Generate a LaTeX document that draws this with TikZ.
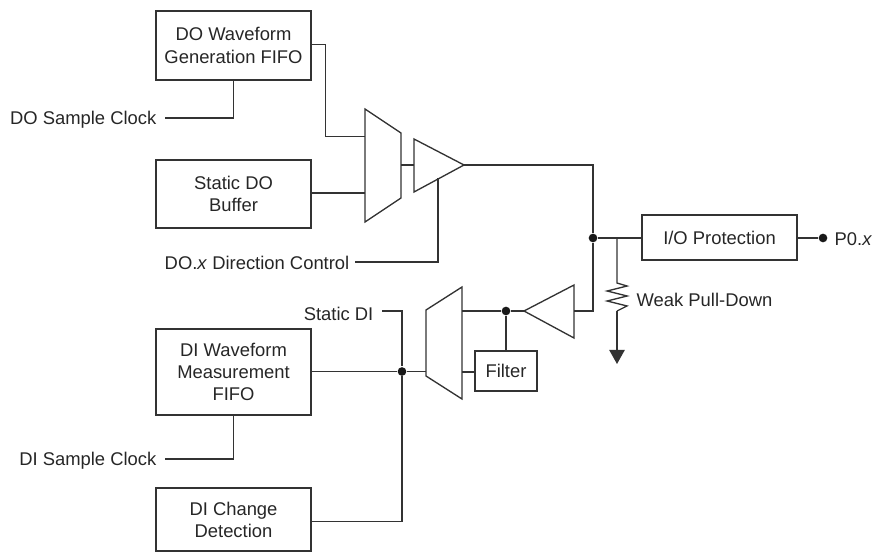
\documentclass[tikz,border=0pt]{standalone}
\usepackage{fontspec}
\setmainfont{Liberation Sans}
\usetikzlibrary{arrows.meta, positioning}

\begin{document}
\begin{tikzpicture}[
    x=0.75pt, y=-0.75pt,
    line width=1pt, draw=black!80,
    box/.style   = {draw=black!80, rectangle, minimum width=116.25pt, inner sep=0pt,
                    align=center, font=\fontsize{13.8}{16.6}\selectfont, text=black!85},
    lbl/.style   = {font=\fontsize{13.8}{16.6}\selectfont, inner sep=0pt, text=black!85},
    dot/.style   = {circle, fill=black!90, inner sep=0pt, minimum size=6.5pt},
    gnd/.style   = {-{Triangle[length=10.5pt, width=11.5pt]}}
  ]
    \useasboundingbox (0,0) rectangle (875,552);

    % left hand boxes
    \node[box, minimum height=51.75pt] (dofifo)   at (233.5, 45.5) {DO Waveform\\Generation FIFO};
    \node[box, minimum height=51pt]    (dobuf)    at (233.5, 194)  {Static DO\\Buffer};
    \node[box, minimum height=64.3pt]  (difilo)   at (233.5, 372)  {DI Waveform\\Measurement\\FIFO};
    \node[box, minimum height=47.25pt] (dichange) at (233.5, 519.5) {DI Change\\Detection};
    \node[box, minimum width=46.5pt, minimum height=30pt] (filter) at (506, 371) {Filter};
    \node[box, minimum width=116.25pt, minimum height=33.75pt] (ioprot) at (719.5, 237.5) {I/O Protection};

    % labels
    \node[lbl, anchor=east] (doclk)  at (157, 120) {DO Sample Clock};
    \node[lbl, anchor=east] (diclk)  at (157, 460.5) {DI Sample Clock};
    \node[lbl, anchor=east] (dirctl) at (350, 263) {DO.\textit{x} Direction Control};
    \node[lbl, anchor=east] (statdi) at (374, 314) {Static DI};
    \node[lbl, anchor=west] (pull)   at (636, 300) {Weak Pull-Down};
    \node[dot] (pzero) at (823, 238) {};
    \node[lbl, anchor=west] (plabel) at (834, 239) {P0.\textit{x}};

    % muxes and buffers
    \draw (365,109) -- (401,133) -- (401,198) -- (365,222) -- cycle;
    \draw (462,287) -- (426,310) -- (426,376) -- (462,399) -- cycle;
    \draw (414,139) -- (464,165) coordinate (dotip) -- (414,192) -- cycle;
    \draw (574,285) -- (524,311) coordinate (ditip) -- (574,338) -- cycle;

    % junctions
    \node[dot] (jout)  at (593, 238) {};
    \node[dot] (jfilt) at (506, 311) {};
    \node[dot] (jdi)   at (402, 371.5) {};
    \coordinate (jpull)  at (617, 238);
    \coordinate (ctlin)  at (438, 178);
    \coordinate (statin) at (382, 311);
    \coordinate (resa)   at (617, 283);
    \coordinate (resb)   at (617, 311);
    \coordinate (ground) at (617, 364);

    % DO side
    \draw (dofifo.east |- 0,44.7) -| (325.5,136.5) -- (365,136.5);
    \draw (dobuf.east |- 0,193) -- (365,193);
    \draw (401,165) -- (414,165);
    \draw (dotip) -| (jout);
    \draw (doclk.east) ++(8,-2) -| (dofifo.south);
    \draw (dirctl.east) ++(5,-1) -| (ctlin);

    % output
    \draw (jout) -- (ioprot.west |- jout);
    \draw (ioprot.east |- pzero) -- (pzero);
    \draw (jpull) -- (resa) -- ++(10,3) -- ++(-20,5) -- ++(20,5) -- ++(-20,5) -- ++(20,5) -- (resb);
    \draw[gnd] (resb) -- (ground);

    % DI side
    \draw (jout) -- (593,311) -- (574,311);
    \draw (ditip) -- (jfilt) -- (462,311);
    \draw (jfilt) -- (filter.north);
    \draw (filter.west |- 0,372) -- (462,372);
    \draw (difilo.east |- jdi) -- (jdi) -- (426,371.5);
    \draw (statin) -| (jdi);
    \draw (dichange.east |- 0,521.7) -| (jdi);
    \draw (diclk.east) ++(8,-1.5) -| (difilo.south);
\end{tikzpicture}
\end{document}
